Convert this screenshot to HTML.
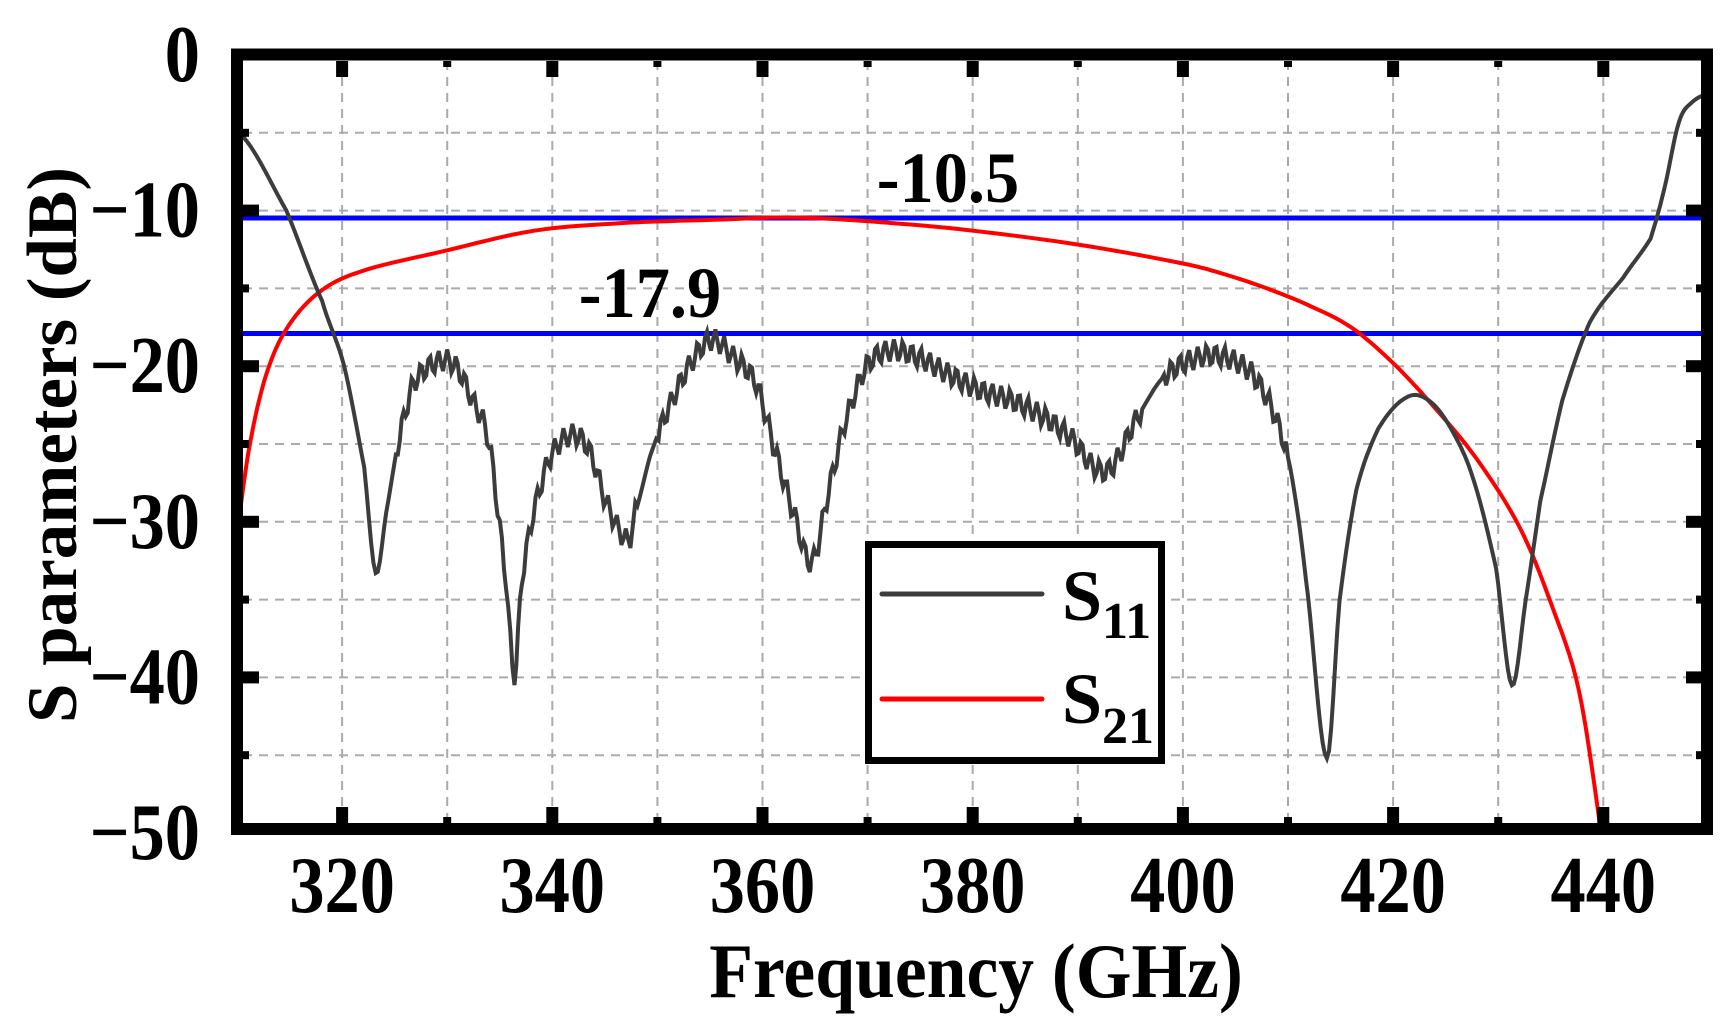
<!DOCTYPE html>
<html><head><meta charset="utf-8"><style>
html,body{margin:0;padding:0;background:#fff;}
svg{display:block;}
text{font-family:"Liberation Serif",serif;font-weight:bold;fill:#000;}
</style></head><body>
<svg id="s" width="1736" height="1033" viewBox="0 0 1736 1033" xmlns="http://www.w3.org/2000/svg">
<g id="grid" stroke="#aaa" stroke-width="2" stroke-dasharray="9,7" fill="none"></g>
<line x1="243" y1="218" x2="1702" y2="218" stroke="#0000ff" stroke-width="5"/>
<line x1="243" y1="333.5" x2="1702" y2="333.5" stroke="#0000ff" stroke-width="5"/>
<path id="s21" fill="none" stroke="#ff0000" stroke-width="4"/>
<path id="s11" fill="none" stroke="#3c3c3c" stroke-width="4"/>
<g id="ticks" fill="#000"></g>
<rect x="237" y="54.5" width="1470" height="774.5" fill="none" stroke="#000" stroke-width="12"/>
<g id="labels" font-size="80"></g>
<text transform="translate(948,202) scale(0.95,1)" font-size="72" text-anchor="middle">-10.5</text>
<text transform="translate(650,317) scale(0.95,1)" font-size="72" text-anchor="middle">-17.9</text>
<text transform="translate(976,997) scale(0.93,1)" font-size="77" text-anchor="middle">Frequency (GHz)</text>
<text transform="translate(76,445) rotate(-90)" font-size="71" text-anchor="middle">S parameters (dB)</text>
<rect x="868.5" y="544.5" width="293" height="216" fill="#fff" stroke="#000" stroke-width="7"/>
<line x1="882" y1="594" x2="1042" y2="594" stroke="#3c3c3c" stroke-width="5" stroke-linecap="round"/>
<line x1="882" y1="699" x2="1042" y2="699" stroke="#ff0000" stroke-width="5" stroke-linecap="round"/>
<text x="1062" y="620" font-size="72">S<tspan font-size="52" dy="18">11</tspan></text>
<text x="1062" y="723" font-size="72">S<tspan font-size="52" dy="20">21</tspan></text>
</svg>
<script>
var NS="http://www.w3.org/2000/svg";
function X(f){return 237+(f-310)*10.51;}
function Y(d){return 55-d*15.56;}
function el(p,t,a){var e=document.createElementNS(NS,t);for(var k in a)e.setAttribute(k,a[k]);document.getElementById(p).appendChild(e);return e;}
for(var f=320;f<450;f+=10)el("grid","line",{x1:X(f),y1:61,x2:X(f),y2:823});
for(var d=-5;d>-50;d-=5)el("grid","line",{x1:243,y1:Y(d),x2:1702,y2:Y(d)});
for(var f=320;f<450;f+=10){var maj=(f%20==0);var w=maj?12:8,l=maj?16:6;
el("ticks","rect",{x:X(f)-w/2,y:823-l,width:w,height:l});el("ticks","rect",{x:X(f)-w/2,y:61,width:w,height:l});}
for(var d=-5;d>-50;d-=5){var maj=(d%10==0);var w=maj?12:8,l=maj?16:6;
el("ticks","rect",{x:243,y:Y(d)-w/2,width:l,height:w});el("ticks","rect",{x:1702-l,y:Y(d)-w/2,width:l,height:w});}
for(var d=0;d>=-50;d-=10){var t=el("labels","text",{transform:"translate(200,"+(Y(d)+26)+") scale(0.88,1)","text-anchor":"end"});t.textContent=(d==0?"0":"\u2212"+(-d));}
for(var f=320;f<=440;f+=20){var t=el("labels","text",{transform:"translate("+X(f)+",912) scale(0.88,1)","text-anchor":"middle"});t.textContent=f;}
function cr(pts){var s="M"+pts[0][0].toFixed(1)+","+pts[0][1].toFixed(1);
for(var i=0;i<pts.length-1;i++){var p0=pts[Math.max(0,i-1)],p1=pts[i],p2=pts[i+1],p3=pts[Math.min(pts.length-1,i+2)];
for(var k=1;k<=8;k++){var t=k/8,t2=t*t,t3=t2*t;
var x=0.5*((2*p1[0])+(-p0[0]+p2[0])*t+(2*p0[0]-5*p1[0]+4*p2[0]-p3[0])*t2+(-p0[0]+3*p1[0]-3*p2[0]+p3[0])*t3);
var y=0.5*((2*p1[1])+(-p0[1]+p2[1])*t+(2*p0[1]-5*p1[1]+4*p2[1]-p3[1])*t2+(-p0[1]+3*p1[1]-3*p2[1]+p3[1])*t3);
s+="L"+x.toFixed(1)+","+y.toFixed(1);}}return s;}
var a=[[310.05,-4.9],[314.7,-10],[318.1,-15.8],[320.2,-20],[322.1,-26.5],[323.2,-33.3],[324.2,-29.4],[325.3,-25],[326.8,-21.1],[329.2,-19.7],[330.8,-20],[332.4,-22.2],[334.0,-25],[335.6,-33.7],[336.4,-39.8],[337.1,-33.7],[338.2,-29.4],[339.8,-25.8],[341.9,-24.4],[343.5,-25.4],[345.1,-28.7],[347.2,-31.2],[347.9,-29.4],[349.3,-25.8],[350.9,-22.9],[353.0,-20],[355.1,-18.3],[357.2,-19.4],[359.4,-21.1],[361.0,-25],[363.1,-29.7],[364.7,-32.6],[366.3,-28],[367.8,-23.7],[369.9,-20],[372.1,-19],[374.7,-19.4],[377.4,-20.4],[380.5,-21.5],[383.7,-22.2],[386.9,-23.3],[389.5,-24.7],[391.6,-26.5],[393.2,-26.5],[395.3,-23.7],[398.0,-20.8],[401.2,-19.5],[403.8,-19.4],[406.5,-20.4],[408.6,-22.9],[410.2,-26.5],[411.7,-33.7],[413.7,-45.2],[414.9,-35.1],[416.5,-27.96],[418.6,-24],[421.3,-22],[423.4,-22.2],[425.5,-24],[427.6,-27.2],[429.8,-33],[431.3,-40.5],[432.6,-35.1],[434.0,-28.7],[436.1,-22.2],[438.7,-17.2],[441.9,-14.3],[444.5,-11.8],[445.8,-8.6],[447.2,-4.3],[448.5,-3.0],[450,-2.5]];
var pts=[];
for(var i=0;i<a.length-1;i++){var n=Math.max(1,Math.round((a[i+1][0]-a[i][0])/0.2));
for(var k=0;k<n;k++){var t=k/n;var f=a[i][0]+(a[i+1][0]-a[i][0])*t;
pts.push([f,null,i,t]);}}
pts.push([450,-2.5]);
function crv(i,t){var p0=a[Math.max(0,i-1)],p1=a[i],p2=a[i+1],p3=a[Math.min(a.length-1,i+2)];var t2=t*t,t3=t2*t;
return 0.5*((2*p1[1])+(-p0[1]+p2[1])*t+(2*p0[1]-5*p1[1]+4*p2[1]-p3[1])*t2+(-p0[1]+3*p1[1]-3*p2[1]+p3[1])*t3);}
var P=pts.map(function(p){var d=p[1]==null?crv(p[2],p[3]):p[1];var f=p[0];
var r=0;if((f>325&&f<348)||(f>350&&f<396)||(f>398&&f<410))r=0.7*Math.sin(f*2*Math.PI/0.85);
return [X(f),Y(d+r)];});
var s="M"+P.map(function(p){return p[0].toFixed(1)+","+p[1].toFixed(1);}).join("L");
document.getElementById("s11").setAttribute("d",s);
var b=[[310,-30.8],[311.2,-25.1],[312.8,-20.5],[314.9,-17.4],[318.1,-15.1],[322.3,-13.8],[329.7,-12.6],[338.2,-11.3],[346.7,-10.8],[355.1,-10.6],[363.5,-10.45],[374.2,-10.9],[382.6,-11.5],[391.1,-12.3],[400,-13.4],[404,-14.1],[408,-15.0],[412,-16.1],[416,-17.5],[420,-19.8],[424,-22.7],[428,-26.0],[432,-30.3],[435,-35.2],[437.7,-40.9],[439.8,-50]];
document.getElementById("s21").setAttribute("d",cr(b.map(function(p){return [X(p[0]),Y(p[1])];})));
</script>
</body></html>
